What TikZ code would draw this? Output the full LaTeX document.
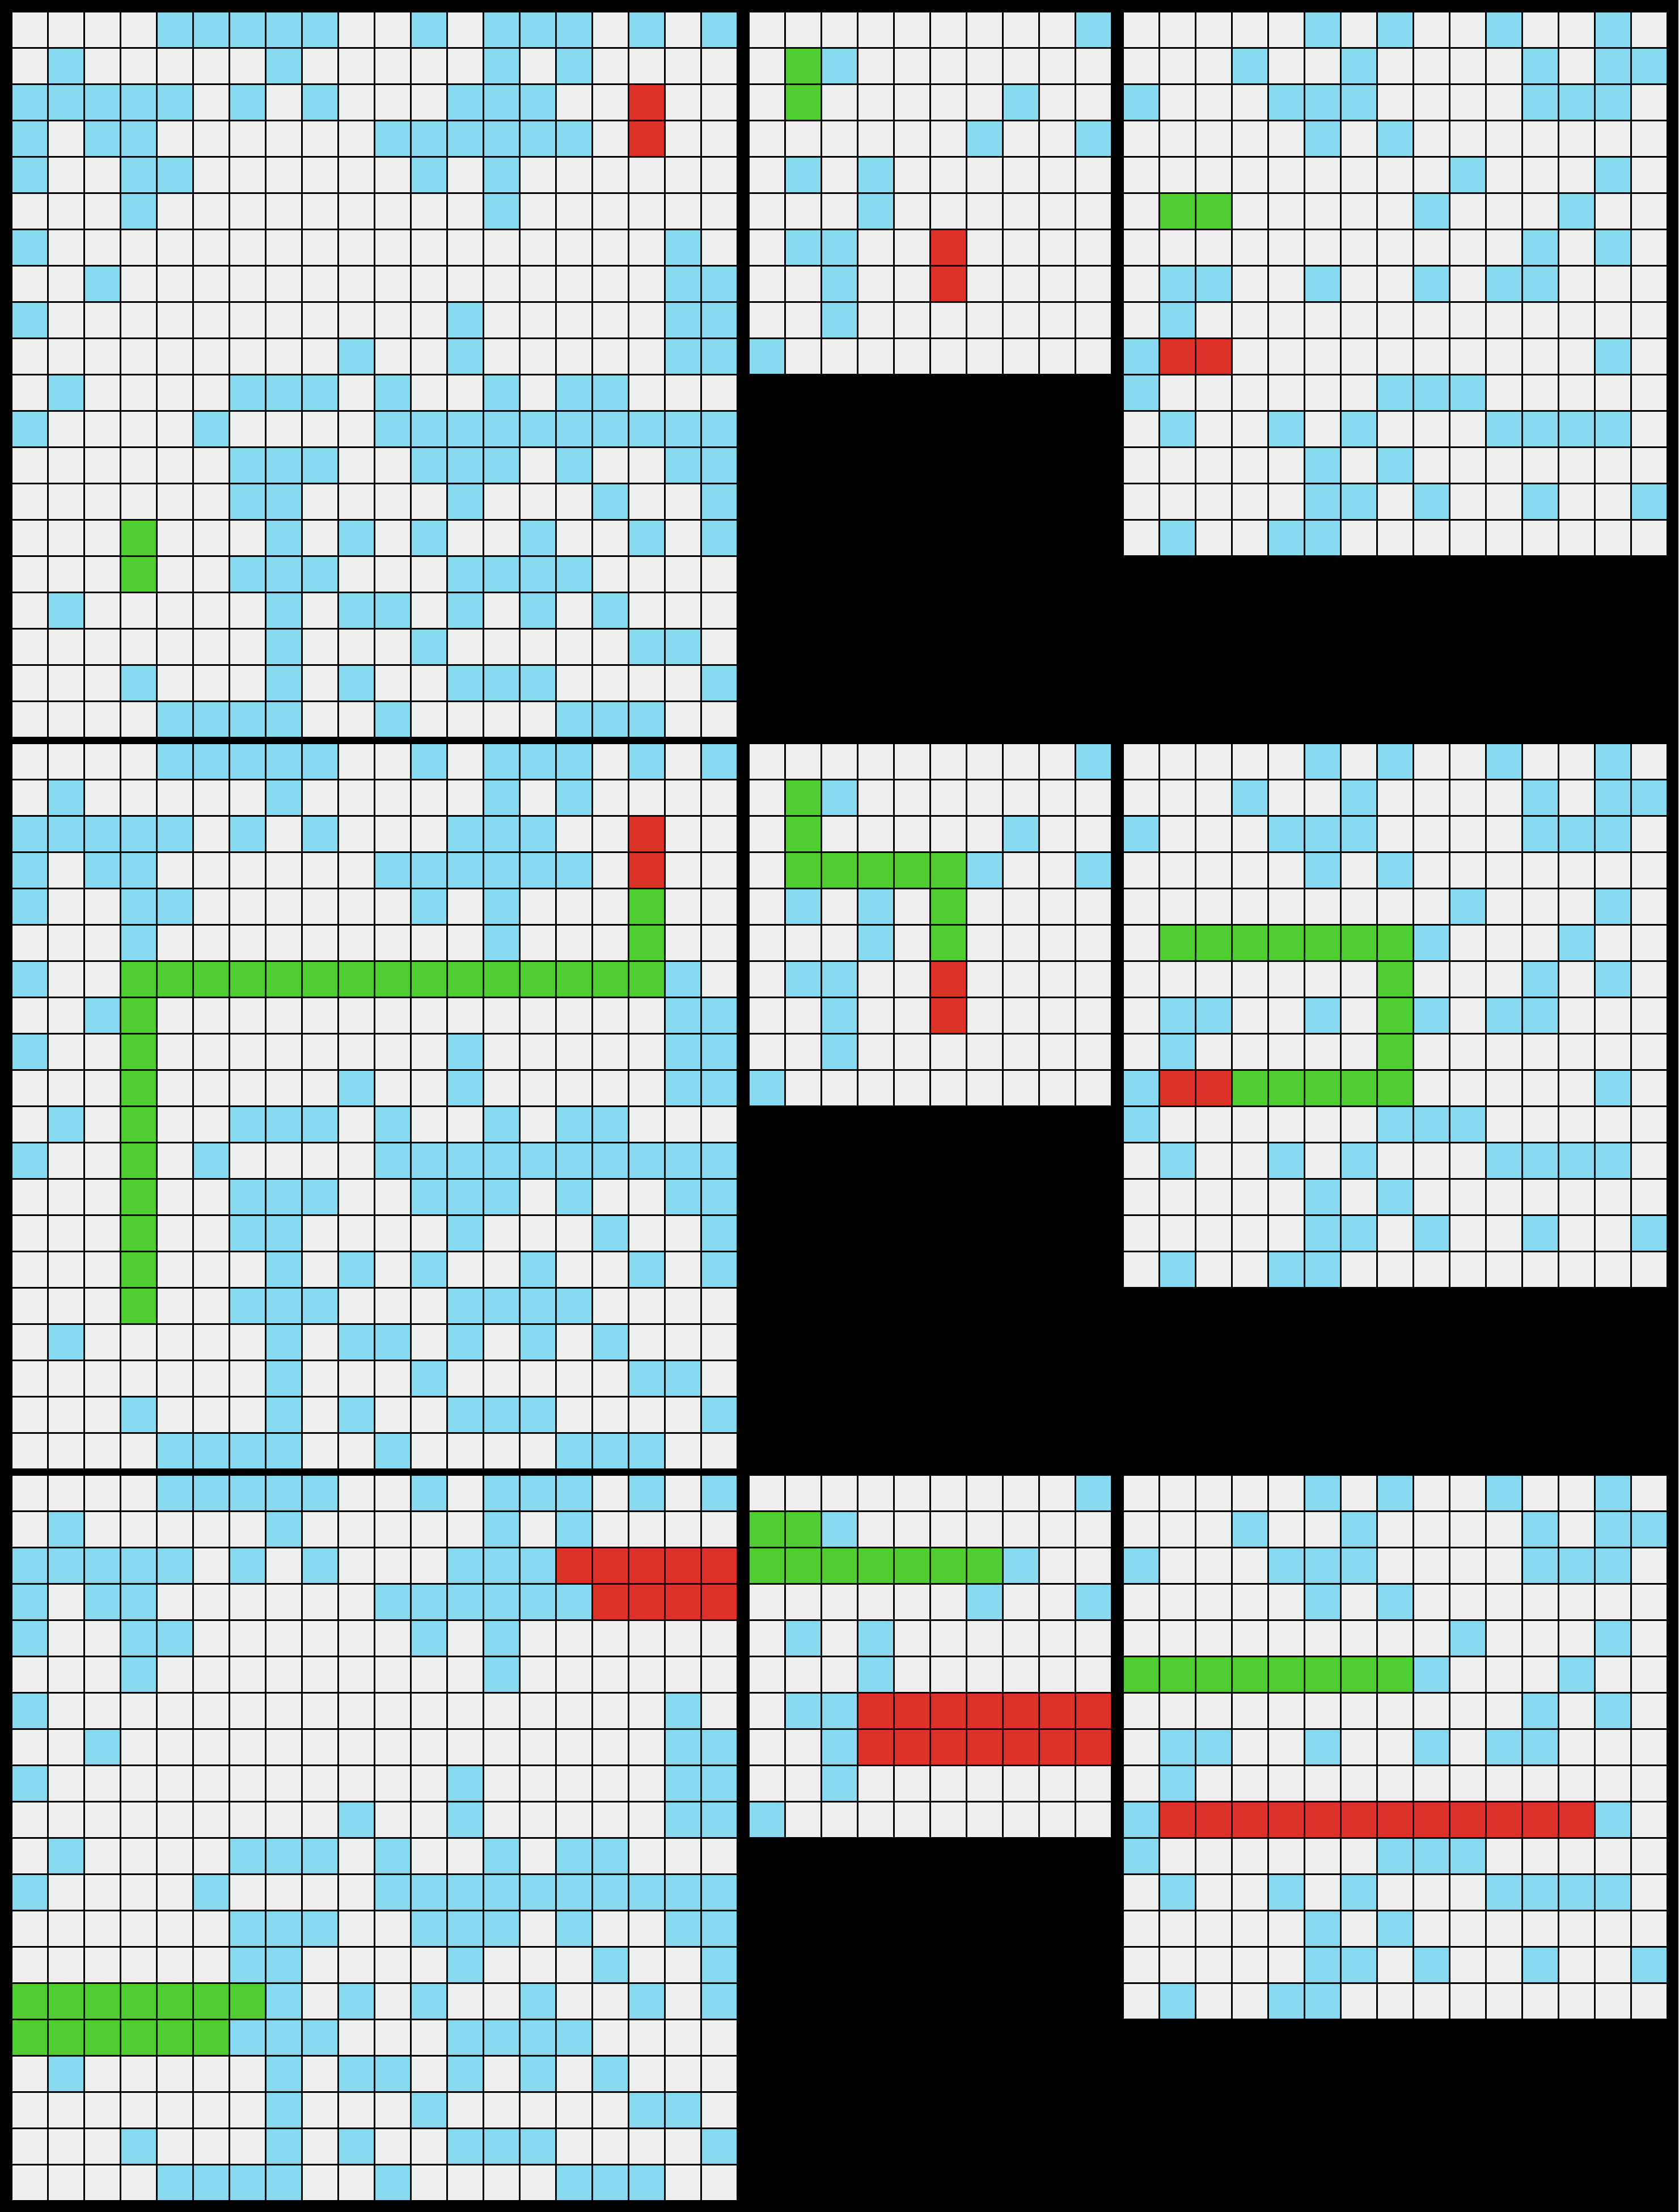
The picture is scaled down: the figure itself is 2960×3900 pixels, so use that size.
\documentclass[tikz,border=0pt]{standalone}
\definecolor{cgray}{RGB}{239,239,239}
\definecolor{cblue}{RGB}{137,217,241}
\definecolor{cgreen}{RGB}{80,205,48}
\definecolor{cred}{RGB}{221,50,40}
\tikzset{gridline/.style={draw=black,line width=0.75pt,line cap=rect}}
% base fill of a grid: ox oy ncols nrows
\newcommand\basegrid[4]{\fill[cgray] (#1,#2) rectangle ({#1+64*#3},{#2+64*#4});}
% blue cells: ox oy rowspec
\newcommand\bluecells[3]{\foreach \r/\cs in {#3}{\foreach \c in \cs {\fill[cblue] ({#1+64*\c},{#2+64*\r}) rectangle ++(64,64);}}}
% block of cells: ox oy c1 r1 c2 r2 colour
\newcommand\cellblock[7]{\fill[#7] ({#1+64*#3},{#2+64*#4}) rectangle ({#1+64*(#5+1)},{#2+64*(#6+1)});}
% grid lines: ox oy ncols nrows
\newcommand\gridlines[4]{%
  \foreach \i in {0,...,#3} {\draw[gridline] ({#1+64*\i},#2) -- ++(0,{64*#4});}
  \foreach \j in {0,...,#4} {\draw[gridline] (#1,{#2+64*\j}) -- ++({64*#3},0);}}
\newcommand\leftbase[1]{\basegrid{20}{#1}{20}{20}\bluecells{20}{#1}{%
0/{4,5,6,7,8,11,13,14,15,17,19},
1/{1,7,13,15},
2/{0,1,2,3,4,6,8,12,13,14},
3/{0,2,3,10,11,12,13,14,15},
4/{0,3,4,11,13},
5/{3,13},
6/{0,18},
7/{2,18,19},
8/{0,12,18,19},
9/{9,12,18,19},
10/{1,6,7,8,10,13,15,16},
11/{0,5,10,11,12,13,14,15,16,17,18,19},
12/{6,7,8,11,12,13,15,18,19},
13/{6,7,12,16,19},
14/{7,9,11,14,17,19},
15/{6,7,8,12,13,14,15},
16/{1,7,9,10,12,14,16},
17/{7,11,17,18},
18/{3,7,9,12,13,14,19},
19/{4,5,6,7,10,15,16,17}}}
\newcommand\midbase[1]{\basegrid{1320}{#1}{10}{10}\bluecells{1320}{#1}{%
0/{9},
1/{2},
2/{7},
3/{6,9},
4/{1,3},
5/{3},
6/{1,2},
7/{2},
8/{2},
9/{0}}}
\newcommand\rightbase[1]{\basegrid{1980}{#1}{15}{15}\bluecells{1980}{#1}{%
0/{5,7,10,13},
1/{3,6,11,13,14},
2/{0,4,5,6,11,12,13},
3/{5,7},
4/{9,13},
5/{8,12},
6/{11,13},
7/{1,2,5,8,10,11},
8/{1},
9/{0,13},
10/{0,7,8,9},
11/{1,4,6,10,11,12,13},
12/{5,7},
13/{5,6,8,11,14},
14/{1,4,5}}}
\begin{document}
\begin{tikzpicture}[x=0.25pt,y=-0.25pt]
\fill[black] (0,0) rectangle (2960,3900);
\useasboundingbox (0,0) rectangle (2960,3900);
% ---------- row 1 ----------
\leftbase{20}
\cellblock{20}{20}{3}{14}{3}{15}{cgreen}
\cellblock{20}{20}{17}{2}{17}{3}{cred}
\gridlines{20}{20}{20}{20}
\midbase{20}
\cellblock{1320}{20}{1}{1}{1}{2}{cgreen}
\cellblock{1320}{20}{5}{6}{5}{7}{cred}
\gridlines{1320}{20}{10}{10}
\rightbase{20}
\cellblock{1980}{20}{1}{5}{2}{5}{cgreen}
\cellblock{1980}{20}{1}{9}{2}{9}{cred}
\gridlines{1980}{20}{15}{15}
% ---------- row 2 ----------
\leftbase{1310}
\cellblock{20}{1310}{17}{2}{17}{3}{cred}
\cellblock{20}{1310}{17}{4}{17}{6}{cgreen}
\cellblock{20}{1310}{3}{6}{16}{6}{cgreen}
\cellblock{20}{1310}{3}{7}{3}{15}{cgreen}
\gridlines{20}{1310}{20}{20}
\midbase{1310}
\cellblock{1320}{1310}{1}{1}{1}{3}{cgreen}
\cellblock{1320}{1310}{2}{3}{5}{3}{cgreen}
\cellblock{1320}{1310}{5}{4}{5}{5}{cgreen}
\cellblock{1320}{1310}{5}{6}{5}{7}{cred}
\gridlines{1320}{1310}{10}{10}
\rightbase{1310}
\cellblock{1980}{1310}{1}{5}{7}{5}{cgreen}
\cellblock{1980}{1310}{7}{6}{7}{9}{cgreen}
\cellblock{1980}{1310}{3}{9}{6}{9}{cgreen}
\cellblock{1980}{1310}{1}{9}{2}{9}{cred}
\gridlines{1980}{1310}{15}{15}
% ---------- row 3 ----------
\leftbase{2600}
\cellblock{20}{2600}{15}{2}{19}{2}{cred}
\cellblock{20}{2600}{16}{3}{19}{3}{cred}
\cellblock{20}{2600}{0}{14}{6}{14}{cgreen}
\cellblock{20}{2600}{0}{15}{5}{15}{cgreen}
\gridlines{20}{2600}{20}{20}
\midbase{2600}
\cellblock{1320}{2600}{0}{1}{1}{1}{cgreen}
\cellblock{1320}{2600}{0}{2}{6}{2}{cgreen}
\cellblock{1320}{2600}{3}{6}{9}{7}{cred}
\gridlines{1320}{2600}{10}{10}
\rightbase{2600}
\cellblock{1980}{2600}{0}{5}{7}{5}{cgreen}
\cellblock{1980}{2600}{1}{9}{12}{9}{cred}
\gridlines{1980}{2600}{15}{15}
\end{tikzpicture}
\end{document}
